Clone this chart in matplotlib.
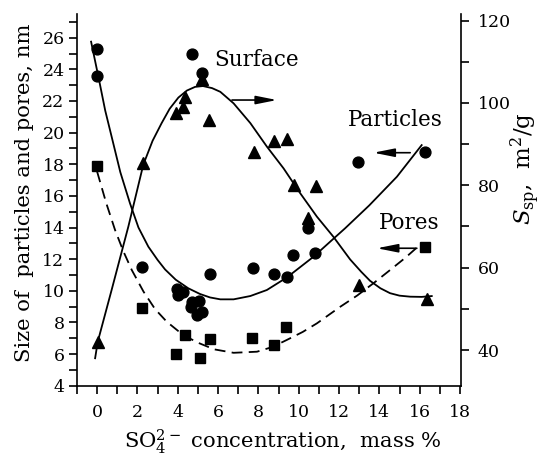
#!/usr/bin/env python3
"""Particle size, pore size and specific surface vs sulfate content."""

import matplotlib

matplotlib.use("Agg")
import matplotlib.pyplot as plt
from matplotlib.ticker import MultipleLocator

# particle size (circles), nm
part_x = [0, 0, 2.23, 3.96, 4.26, 4.0, 4.69, 5.04, 4.67, 5.2, 4.96, 4.69, 5.2,
          5.58, 7.73, 8.75, 9.42, 9.71, 10.44, 10.82, 12.96, 16.27]
part_nm = [25.3, 23.6, 11.52, 10.09, 9.94, 9.73, 9.31, 9.37, 9.0, 8.68, 8.47,
           24.95, 23.75, 11.06, 11.46, 11.04, 10.89, 12.26, 13.94, 12.37,
           18.16, 18.79]

# pore size (squares), nm
pore_x = [0, 2.23, 3.93, 4.34, 5.12, 5.58, 7.68, 8.75, 9.36, 16.27]
pore_nm = [17.9, 8.89, 6.0, 7.2, 5.73, 6.93, 7.03, 6.6, 7.73, 12.8]

# specific surface (triangles), m2/g
surf_x = [0.03, 2.29, 3.9, 4.28, 4.36, 5.2, 5.53, 7.76, 8.79, 9.42, 9.79,
          10.85, 10.44, 13.01, 16.35]
surf_m2g = [42.0, 85.5, 97.5, 99.1, 101.5, 105.8, 95.9, 88.2, 90.8, 91.3,
            80.1, 79.9, 72.0, 55.8, 52.3]

# hand-drawn trend lines
part_line_x = [-0.3, 0.1, 0.4, 0.72, 1.15, 1.63, 2.05, 2.54, 3.0, 3.37, 3.9,
               4.52, 5.1, 5.6, 6.11, 6.77, 7.6, 8.42, 9.42, 10.73, 11.6,
               12.3, 13.5, 14.87, 16.1]
part_line_y = [25.75, 23.3, 21.4, 19.74, 17.5, 15.53, 14.0, 12.79, 11.95, 11.35,
               10.7, 10.16, 9.8, 9.58, 9.46, 9.46, 9.67, 10.05, 10.85, 12.15,
               13.15, 13.95, 15.4, 17.21, 19.21]

pore_line_x = [0, 0.45, 0.89, 1.3, 1.72, 2.3, 2.87, 3.45, 4.03, 4.5, 5.0, 5.8,
               6.77, 7.93, 8.7, 9.42, 10.2, 10.9, 12.06, 12.9, 13.7, 14.53,
               15.3, 16.0]
pore_line_y = [17.53, 15.55, 13.84, 12.5, 11.31, 9.95, 8.85, 8.05, 7.45, 7.05,
               6.72, 6.3, 6.08, 6.15, 6.45, 6.9, 7.4, 7.94, 8.99, 9.7, 10.47,
               11.31, 12.1, 12.89]

surf_line_x = [-0.1, 0.03, 0.72, 1.55, 2.29, 2.75, 3.2, 3.6, 4.03, 4.45, 4.86,
               5.25, 5.7, 6.11, 6.77, 7.6, 8.42, 9.25, 10.07, 10.9, 11.72,
               12.55, 13.1, 13.54, 14.05, 14.53, 15.0, 15.53, 16.1, 16.6]
surf_line_y = [38.0, 42.0, 54.6, 70.0, 85.0, 90.8, 95.1, 98.6, 101.3, 103.0,
               103.9, 104.1, 103.6, 102.7, 99.9, 95.1, 89.4, 84.1, 78.1, 72.4,
               67.5, 62.0, 59.0, 56.8, 55.0, 53.8, 53.2, 52.95, 52.9, 53.1]

x_ticks = list(range(0, 19, 2))
left_ticks = list(range(4, 27, 2))
right_ticks = [40, 60, 80, 100, 120]

plt.rcParams["font.family"] = ["DejaVu Serif"]
plt.rcParams["mathtext.fontset"] = "dejavuserif"


def style_ticks(axis):
    axis.tick_params(axis="both", which="both", direction="out", length=6,
                     width=1.2, labelsize=12.5, color="black")
    for s in axis.spines.values():
        s.set_linewidth(1.2)
    axis.spines["top"].set_visible(False)


def main() -> None:
    fig = plt.figure(figsize=(5.44, 4.57), dpi=100)
    ax = fig.add_axes([0.1415, 0.156, 0.7059, 0.8134])
    ax2 = ax.twinx()

    lw = 1.3
    ax.plot(part_line_x, part_line_y, color="black", lw=lw)
    ax.plot(pore_line_x, pore_line_y, color="black", lw=lw,
            linestyle=(0, (6.0, 3.5)))
    ax.plot(part_x, part_nm, "o", color="black", ms=7.8, zorder=5)
    ax.plot(pore_x, pore_nm, "s", color="black", ms=7.4, zorder=5)

    ax2.plot(surf_line_x, surf_line_y, color="black", lw=lw)
    ax2.plot(surf_x, surf_m2g, "^", color="black", ms=8.6, zorder=5)

    ax.set_xlim(-1, 18.05)
    ax.set_ylim(4, 27.5)
    ax2.set_ylim(31.33, 121.6)

    ax.set_xticks(x_ticks)
    ax.xaxis.set_minor_locator(MultipleLocator(1))
    ax.set_yticks(left_ticks)
    ax.yaxis.set_minor_locator(MultipleLocator(1))
    ax2.set_yticks(right_ticks)
    ax2.yaxis.set_minor_locator(MultipleLocator(10))

    style_ticks(ax)
    style_ticks(ax2)
    ax.spines["right"].set_visible(False)
    ax2.spines["left"].set_visible(False)
    ax2.spines["bottom"].set_visible(False)
    ax.tick_params(axis="x", pad=7)
    ax.tick_params(axis="y", pad=3)
    ax2.tick_params(axis="y", pad=6)

    ax.set_xlabel(r"SO$_4^{2-}$ concentration,  mass %", fontsize=15.2)
    ax.set_ylabel("Size of  particles and pores, nm", fontsize=15.2)
    ax2.set_ylabel(r"$S_{\mathrm{sp}}$,  m$^2$/g", fontsize=16.5)
    ax.xaxis.set_label_coords(0.536, -0.112)
    ax.yaxis.set_label_coords(-0.112, 0.52)
    ax2.yaxis.set_label_coords(1.123, 0.585)

    # curve labels with arrows pointing at the axis they belong to
    ax.text(7.92, 24.59, "Surface", fontsize=15.5, ha="center", va="center")
    ax.text(14.81, 20.8, "Particles", fontsize=15.5, ha="center", va="center")
    ax.text(15.49, 14.27, "Pores", fontsize=15.5, ha="center", va="center")

    arrow = dict(arrowstyle="-|>,head_length=0.9,head_width=0.18",
                 color="black", lw=1.2, mutation_scale=14,
                 shrinkA=0, shrinkB=0)
    ax.annotate("", xy=(8.92, 22.06), xytext=(6.69, 22.06), arrowprops=arrow)
    ax.annotate("", xy=(13.71, 18.73), xytext=(15.53, 18.73), arrowprops=arrow)
    ax.annotate("", xy=(13.88, 12.69), xytext=(15.86, 12.69), arrowprops=arrow)

    fig.savefig("out.png", dpi=100)


if __name__ == "__main__":
    main()
